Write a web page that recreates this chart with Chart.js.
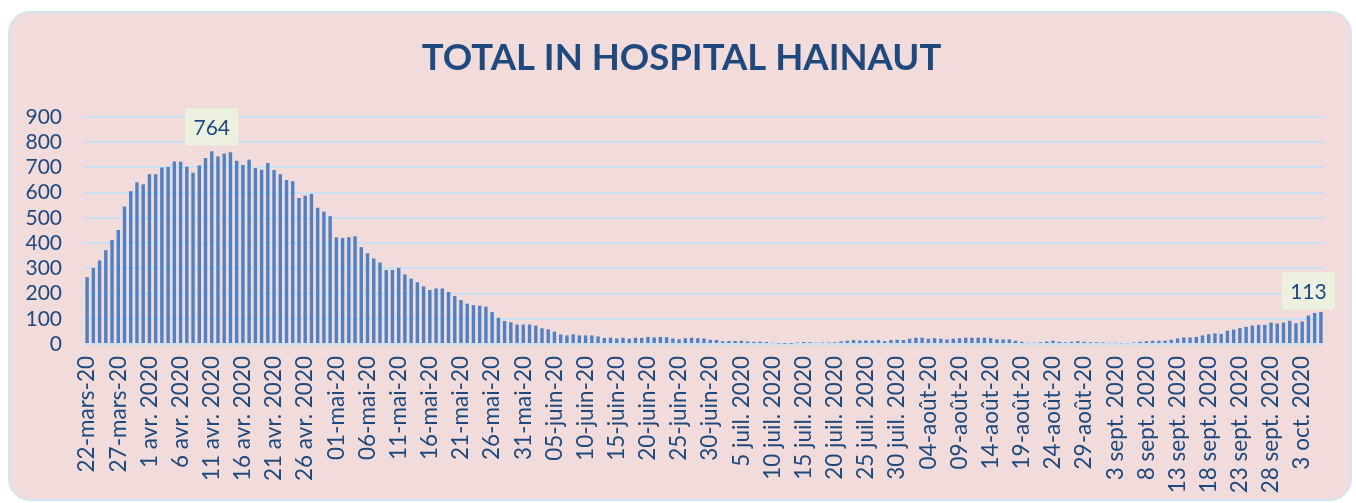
<!DOCTYPE html>
<html>
<head>
<meta charset="utf-8">
<script src="https://cdn.jsdelivr.net/npm/chart.js@4.4.1/dist/chart.umd.min.js"></script>
<style>
    html, body {
        margin: 0;
        padding: 0;
        background: #ffffff;
    }
    #wrap {
        position: relative;
        width: 1356px;
        height: 503px;
        overflow: hidden;
    }
    #card {
        position: absolute;
        left: 8px;
        top: 11px;
        width: 1340px;
        height: 486px;
        background: #f2dcdb;
        border: 2px solid #d5e3f2;
        border-radius: 22px;
    }
    #chart {
        position: absolute;
        left: 0;
        top: 0;
    }
</style>
</head>
<body>
<div id="wrap">
    <div id="card"></div>
    <canvas id="chart" width="1356" height="503"></canvas>
</div>
<script>
// daily totals in hospital, 22 March 2020 -> 6 October 2020
const inHospital = [
    265, 302, 331, 372, 412, 452, 545, 606, 641, 633,
    673, 673, 700, 702, 724, 723, 703, 679, 708, 737,
    764, 744, 755, 760, 727, 710, 731, 698, 691, 718,
    690, 673, 650, 645, 579, 588, 595, 540, 525, 507,
    423, 420, 423, 427, 384, 360, 339, 323, 293, 294,
    302, 276, 259, 245, 228, 214, 220, 220, 206, 190,
    174, 160, 154, 152, 148, 127, 104, 91, 86, 77,
    77, 77, 73, 62, 58, 49, 38, 34, 38, 34,
    34, 34, 30, 24, 25, 22, 25, 21, 25, 24,
    28, 26, 28, 27, 22, 19, 23, 25, 23, 22,
    17, 16, 11, 12, 12, 13, 10, 9, 9, 8,
    5, 2, 1, 1, 6, 8, 7, 5, 6, 6,
    7, 10, 13, 16, 14, 14, 14, 16, 11, 16,
    17, 16, 21, 25, 25, 21, 23, 21, 18, 21,
    23, 25, 25, 25, 25, 23, 18, 18, 18, 13,
    9, 5, 5, 7, 10, 13, 9, 7, 9, 11,
    9, 7, 7, 6, 5, 5, 3, 3, 6, 9,
    11, 13, 13, 13, 17, 22, 26, 26, 28, 34,
    39, 42, 40, 53, 57, 63, 68, 73, 76, 76,
    85, 81, 85, 92, 82, 89, 113, 123, 127
];

// one label every 5 days, as printed on the axis
const tickLabels = [
    '22-mars-20', '27-mars-20', '1 avr. 2020', '6 avr. 2020', '11 avr. 2020',
    '16 avr. 2020', '21 avr. 2020', '26 avr. 2020', '01-mai-20', '06-mai-20',
    '11-mai-20', '16-mai-20', '21-mai-20', '26-mai-20', '31-mai-20',
    '05-juin-20', '10-juin-20', '15-juin-20', '20-juin-20', '25-juin-20',
    '30-juin-20', '5 juil. 2020', '10 juil. 2020', '15 juil. 2020', '20 juil. 2020',
    '25 juil. 2020', '30 juil. 2020', '04-août-20', '09-août-20', '14-août-20',
    '19-août-20', '24-août-20', '29-août-20', '3 sept. 2020', '8 sept. 2020',
    '13 sept. 2020', '18 sept. 2020', '23 sept. 2020', '28 sept. 2020', '3 oct. 2020'
];

const yTicks = [0, 100, 200, 300, 400, 500, 600, 700, 800, 900];

// bars that carry a value box
const labelledDays = [20, 196];

const categories = inHospital.map((v, i) => (i % 5 === 0) ? tickLabels[i / 5] : '');

const chartTitle = 'TOTAL IN HOSPITAL HAINAUT';
const textBlue = '#1f497d';

// the title sits a little right of the canvas centre, so it is drawn by hand
const titleText = {
    id: 'titleText',
    afterDraw(chart) {
        const c = chart.ctx;
        c.save();
        c.font = 'bold 36.5px Lato';
        c.fillStyle = textBlue;
        c.textAlign = 'center';
        c.textBaseline = 'middle';
        c.fillText(chartTitle, 681.5, 58);
        c.restore();
    }
};

const valueBoxes = {
    id: 'valueBoxes',
    afterDatasetsDraw(chart) {
        const c = chart.ctx;
        const meta = chart.getDatasetMeta(0);
        c.save();
        c.font = '21px Lato';
        c.textAlign = 'center';
        c.textBaseline = 'middle';
        labelledDays.forEach(i => {
            const bar = meta.data[i];
            const w = 53, h = 37;
            const bottom = bar.y - 6;
            c.fillStyle = '#ebf1de';
            c.fillRect(bar.x - w / 2, bottom - h, w, h);
            c.fillStyle = textBlue;
            c.fillText(String(inHospital[i]), bar.x, bottom - h / 2 + 1);
        });
        c.restore();
    }
};

new Chart(document.getElementById('chart'), {
    type: 'bar',
    data: {
        labels: categories,
        datasets: [{
            label: 'Total in hospital',
            data: inHospital,
            backgroundColor: '#4f81c3',
            barPercentage: 0.55,
            categoryPercentage: 1
        }]
    },
    options: {
        responsive: false,
        animation: false,
        layout: {
            padding: {left: 0, right: 32, top: 117, bottom: 0}
        },
        plugins: {
            legend: {display: false},
            tooltip: {enabled: false},
            title: {display: false}
        },
        scales: {
            x: {
                grid: {display: false},
                border: {display: false},
                ticks: {
                    autoSkip: false,
                    minRotation: 90,
                    maxRotation: 90,
                    padding: 4,
                    color: textBlue,
                    font: {family: 'Lato', size: 22.5}
                },
                afterFit(scale) {
                    scale.height = 159;
                }
            },
            y: {
                min: 0,
                max: 900,
                afterBuildTicks(scale) {
                    scale.ticks = yTicks.map(v => ({value: v}));
                },
                grid: {
                    color: '#cddff3',
                    lineWidth: 2,
                    drawTicks: false
                },
                border: {display: false},
                ticks: {
                    autoSkip: false,
                    padding: 22,
                    color: textBlue,
                    font: {family: 'Lato', size: 21}
                },
                afterFit(scale) {
                    scale.width = 84;
                }
            }
        }
    },
    plugins: [valueBoxes, titleText]
});
</script>
</body>
</html>
